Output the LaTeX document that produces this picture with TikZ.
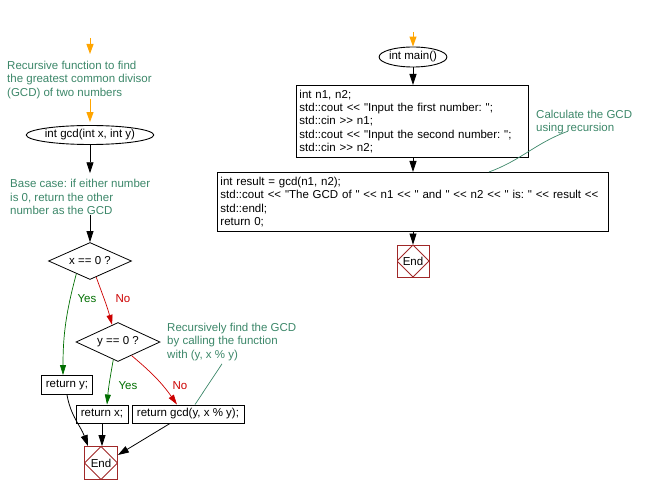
\documentclass[tikz,border=0pt]{standalone}
\usepackage{fontspec}
\setmainfont{Liberation Sans}[Ligatures=TeXOff]
\usetikzlibrary{arrows.meta,shapes.geometric}
\definecolor{comgreen}{RGB}{60,135,105}
\definecolor{orangec}{RGB}{255,165,0}
\definecolor{endred}{RGB}{160,40,40}
\definecolor{yesgreen}{RGB}{0,110,0}
\definecolor{nored}{RGB}{204,0,0}
\begin{document}
\frenchspacing
\begin{tikzpicture}[x=1pt,y=-1pt,
  font=\fontsize{11.5}{13.3}\selectfont\frenchspacing,
  every node/.style={inner sep=0pt},
  box/.style={draw, line width=0.9pt, align=left, inner xsep=3pt},
  ell/.style={ellipse, draw, line width=0.9pt},
  dia/.style={diamond, draw, line width=0.8pt, aspect=2.2},
  com/.style={text=comgreen, align=left, anchor=west},
  endn/.style={draw=endred, line width=0.8pt, minimum size=32pt,
    path picture={\draw[endred, line width=0.8pt] (path picture bounding box.north) -- (path picture bounding box.east) -- (path picture bounding box.south) -- (path picture bounding box.west) -- cycle;}},
  arr/.style={line width=0.8pt, -{Triangle[length=11pt,width=7pt]}},
  oarr/.style={orangec, line width=1pt, -{Triangle[length=10pt,width=7pt]}},
  yarr/.style={yesgreen, line width=0.7pt, -{Triangle[length=10pt,width=6pt]}},
  narr/.style={nored, line width=0.7pt, -{Triangle[length=10pt,width=6pt]}},
  cline/.style={comgreen, line width=0.7pt},
  ylab/.style={text=yesgreen},
  nlab/.style={text=nored}]
\useasboundingbox (0,0) rectangle (650,494);

% ---------- left: gcd ----------
\coordinate (s1) at (90,38);
\node[com] (com1) at (7,80) {Recursive function to find\\the greatest common divisor\\(GCD) of two numbers};
\node[ell, minimum width=108pt, minimum height=19pt] (gcd) at (90,135) {int gcd(int x, int y)};
\node[com] (com2) at (10,197) {Base case: if either number\\is 0, return the other\\number as the GCD};
\node[dia, minimum width=83pt, minimum height=37pt] (d1) at (90,261) {x == 0 ?};
\node[dia, minimum width=84pt, minimum height=39pt] (d2) at (118,342) {y == 0 ?};
\node[com] (com3) at (167,342) {Recursively find the GCD\\by calling the function\\with (y, x \% y)};
\node[box, minimum width=51pt, minimum height=19pt] (ry) at (67,385) {return y;};
\node[box, minimum width=52pt, minimum height=18pt] (rx) at (102,414) {return x;};
\node[box, minimum width=112pt, minimum height=18pt] (rg) at (188,414) {return gcd(y, x \% y);};
\node[endn, minimum size=33pt] (end1) at (101,463) {End};

\draw[oarr] (s1) -- (90,54);
\draw[oarr, shorten >=3pt] (com1.south -| gcd.north) -- (gcd.north);
\draw[arr, shorten >=6pt] (gcd.south) -- (gcd.south |- com2.north);
\draw[arr] (d1.north |- com2.south) -- (d1.north);
\draw[yarr] (d1.223) to[out=255,in=90] ([xshift=-4pt]ry.north);
\node[ylab] (yes1) at (87,299) {Yes};
\draw[narr] (d1.291) to[out=290,in=105] (d2.109);
\node[nlab] (no1) at (123,299) {No};
\draw[yarr] (d2.255) to[out=260,in=85] ([xshift=5pt]rx.north);
\node[ylab] (yes2) at (128,386) {Yes};
\draw[narr] (d2.315) to[out=-40,in=125] ([xshift=-11pt]rg.north);
\node[nlab] (no2) at (180,386) {No};
\draw[cline] ([shift={(55,3)}]com3.south west) -- ([xshift=7pt]rg.north);
\draw[arr] (ry.south) to[out=280,in=110] ([xshift=-13pt]end1.north);
\draw[arr] (rx.south) -- (rx.south |- end1.north);
\draw[arr] ([xshift=-18pt]rg.south) -- ([yshift=8pt]end1.east);

% ---------- right: main ----------
\coordinate (s2) at (413,32);
\node[ell, minimum width=67pt, minimum height=20pt] (main) at (413,57) {int main()};
\node[box, anchor=north west, text width=226pt, minimum height=72pt] (b1) at (296,85) {int n1, n2;\\std::cout << "Input the first number: ";\\std::cin >> n1;\\std::cout << "Input the second number: ";\\std::cin >> n2;};
\node[box, anchor=north west, text width=385pt, minimum height=59pt] (b2) at (217,172) {int result = gcd(n1, n2);\\std::cout << "The GCD of " << n1 << " and " << n2 << " is: " << result <<\\std::endl;\\return 0;};
\node[endn] (end2) at (413,261) {End};
\node[com] (com4) at (536,122) {Calculate the GCD\\using recursion};

\draw[oarr] (s2) -- (main.north);
\draw[arr] (main.south) -- (main.south |- b1.north);
\draw[arr] (b1.south -| main) -- (b2.north -| main);
\draw[arr] (b2.south -| main) -- (end2.north);
\draw[cline] ([shift={(32,-3)}]com4.south west) to[out=200,in=20] ([xshift=-120pt]b2.north east);
\end{tikzpicture}
\end{document}
